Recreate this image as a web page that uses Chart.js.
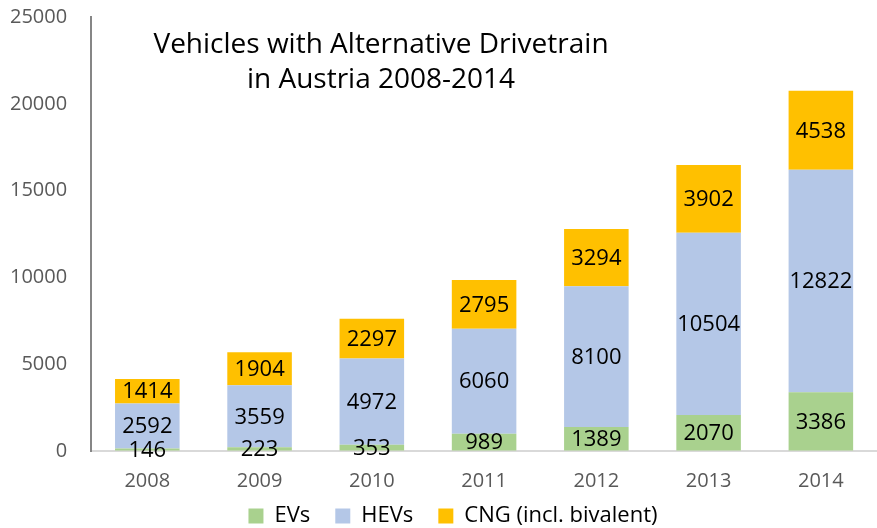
<!DOCTYPE html>
<html>
<head>
<meta charset="utf-8">
<script src="https://cdn.jsdelivr.net/npm/chart.js@4/dist/chart.umd.min.js"></script>
<style>
html,body{margin:0;padding:0;background:#fff;}
#wrap{width:877px;height:528px;position:relative;}
</style>
</head>
<body>
<div id="wrap"><canvas id="c" width="877" height="528"></canvas></div>
<script>
const categories = ['2008','2009','2010','2011','2012','2013','2014'];
const evs  = [146, 223, 353, 989, 1389, 2070, 3386];
const hevs = [2592, 3559, 4972, 6060, 8100, 10504, 12822];
const cng  = [1414, 1904, 2297, 2795, 3294, 3902, 4538];
const seriesNames = ['EVs', 'HEVs', 'CNG (incl. bivalent)'];
const titleLines = ['Vehicles with Alternative Drivetrain', 'in Austria 2008-2014'];

const FONT = '"Open Sans", "DejaVu Sans", sans-serif';

const valueLabels = {
  id: 'valueLabels',
  afterDatasetsDraw(chart) {
    const ctx = chart.ctx;
    ctx.save();
    ctx.font = '22px ' + FONT;
    ctx.fillStyle = '#000';
    ctx.textAlign = 'center';
    ctx.textBaseline = 'middle';
    chart.data.datasets.forEach((ds, i) => {
      const meta = chart.getDatasetMeta(i);
      meta.data.forEach((el, j) => {
        const y = (el.y + el.base) / 2;
        ctx.fillText(String(ds.data[j]), el.x, y + 1);
      });
    });
    ctx.restore();
  }
};

const innerTitle = {
  id: 'innerTitle',
  afterDraw(chart) {
    const ctx = chart.ctx;
    ctx.save();
    ctx.font = '28px ' + FONT;
    ctx.fillStyle = '#000';
    ctx.textAlign = 'center';
    ctx.textBaseline = 'middle';
    ctx.fillText(titleLines[0], 381, 45);
    ctx.fillText(titleLines[1], 381, 80);
    ctx.restore();
  }
};

const legendShift = {
  id: 'legendShift',
  afterLayout(chart) {
    const l = chart.legend;
    if (l) { l.left += 8; l.right += 8; l.top -= 31; l.bottom -= 31; }
  }
};

new Chart(document.getElementById('c'), {
  type: 'bar',
  data: {
    labels: categories,
    datasets: [
      { label: seriesNames[0], data: evs,  backgroundColor: '#a9d18e' },
      { label: seriesNames[1], data: hevs, backgroundColor: '#b4c7e7' },
      { label: seriesNames[2], data: cng,  backgroundColor: '#ffc000' }
    ]
  },
  options: {
    responsive: false,
    animation: false,
    devicePixelRatio: 1,
    layout: { padding: { left: 7, right: -6, top: 17, bottom: -40 } },
    datasets: { bar: { barPercentage: 0.575, categoryPercentage: 1.0 } },
    scales: {
      x: {
        stacked: true,
        grid: { display: false, drawTicks: false },
        border: { display: true, color: '#d9d9d9', width: 2 },
        ticks: { color: '#595959', font: { family: FONT, size: 20 }, padding: 18 }
      },
      y: {
        stacked: true,
        min: 0, max: 25000,
        grid: { display: true, drawOnChartArea: false, drawTicks: true, tickLength: 21, tickColor: 'rgba(0,0,0,0)' },
        border: { display: true, color: '#868686', width: 2 },
        ticks: {
          stepSize: 5000, color: '#595959', font: { family: FONT, size: 20 }, padding: 3,
          callback: v => String(v)
        }
      }
    },
    plugins: {
      legend: {
        position: 'bottom',
        labels: { boxWidth: 15, boxHeight: 15, padding: 25, color: '#000', font: { family: FONT, size: 22 } }
      },
      tooltip: { enabled: false },
      title: { display: false }
    }
  },
  plugins: [valueLabels, innerTitle, legendShift]
});
</script>
</body>
</html>
